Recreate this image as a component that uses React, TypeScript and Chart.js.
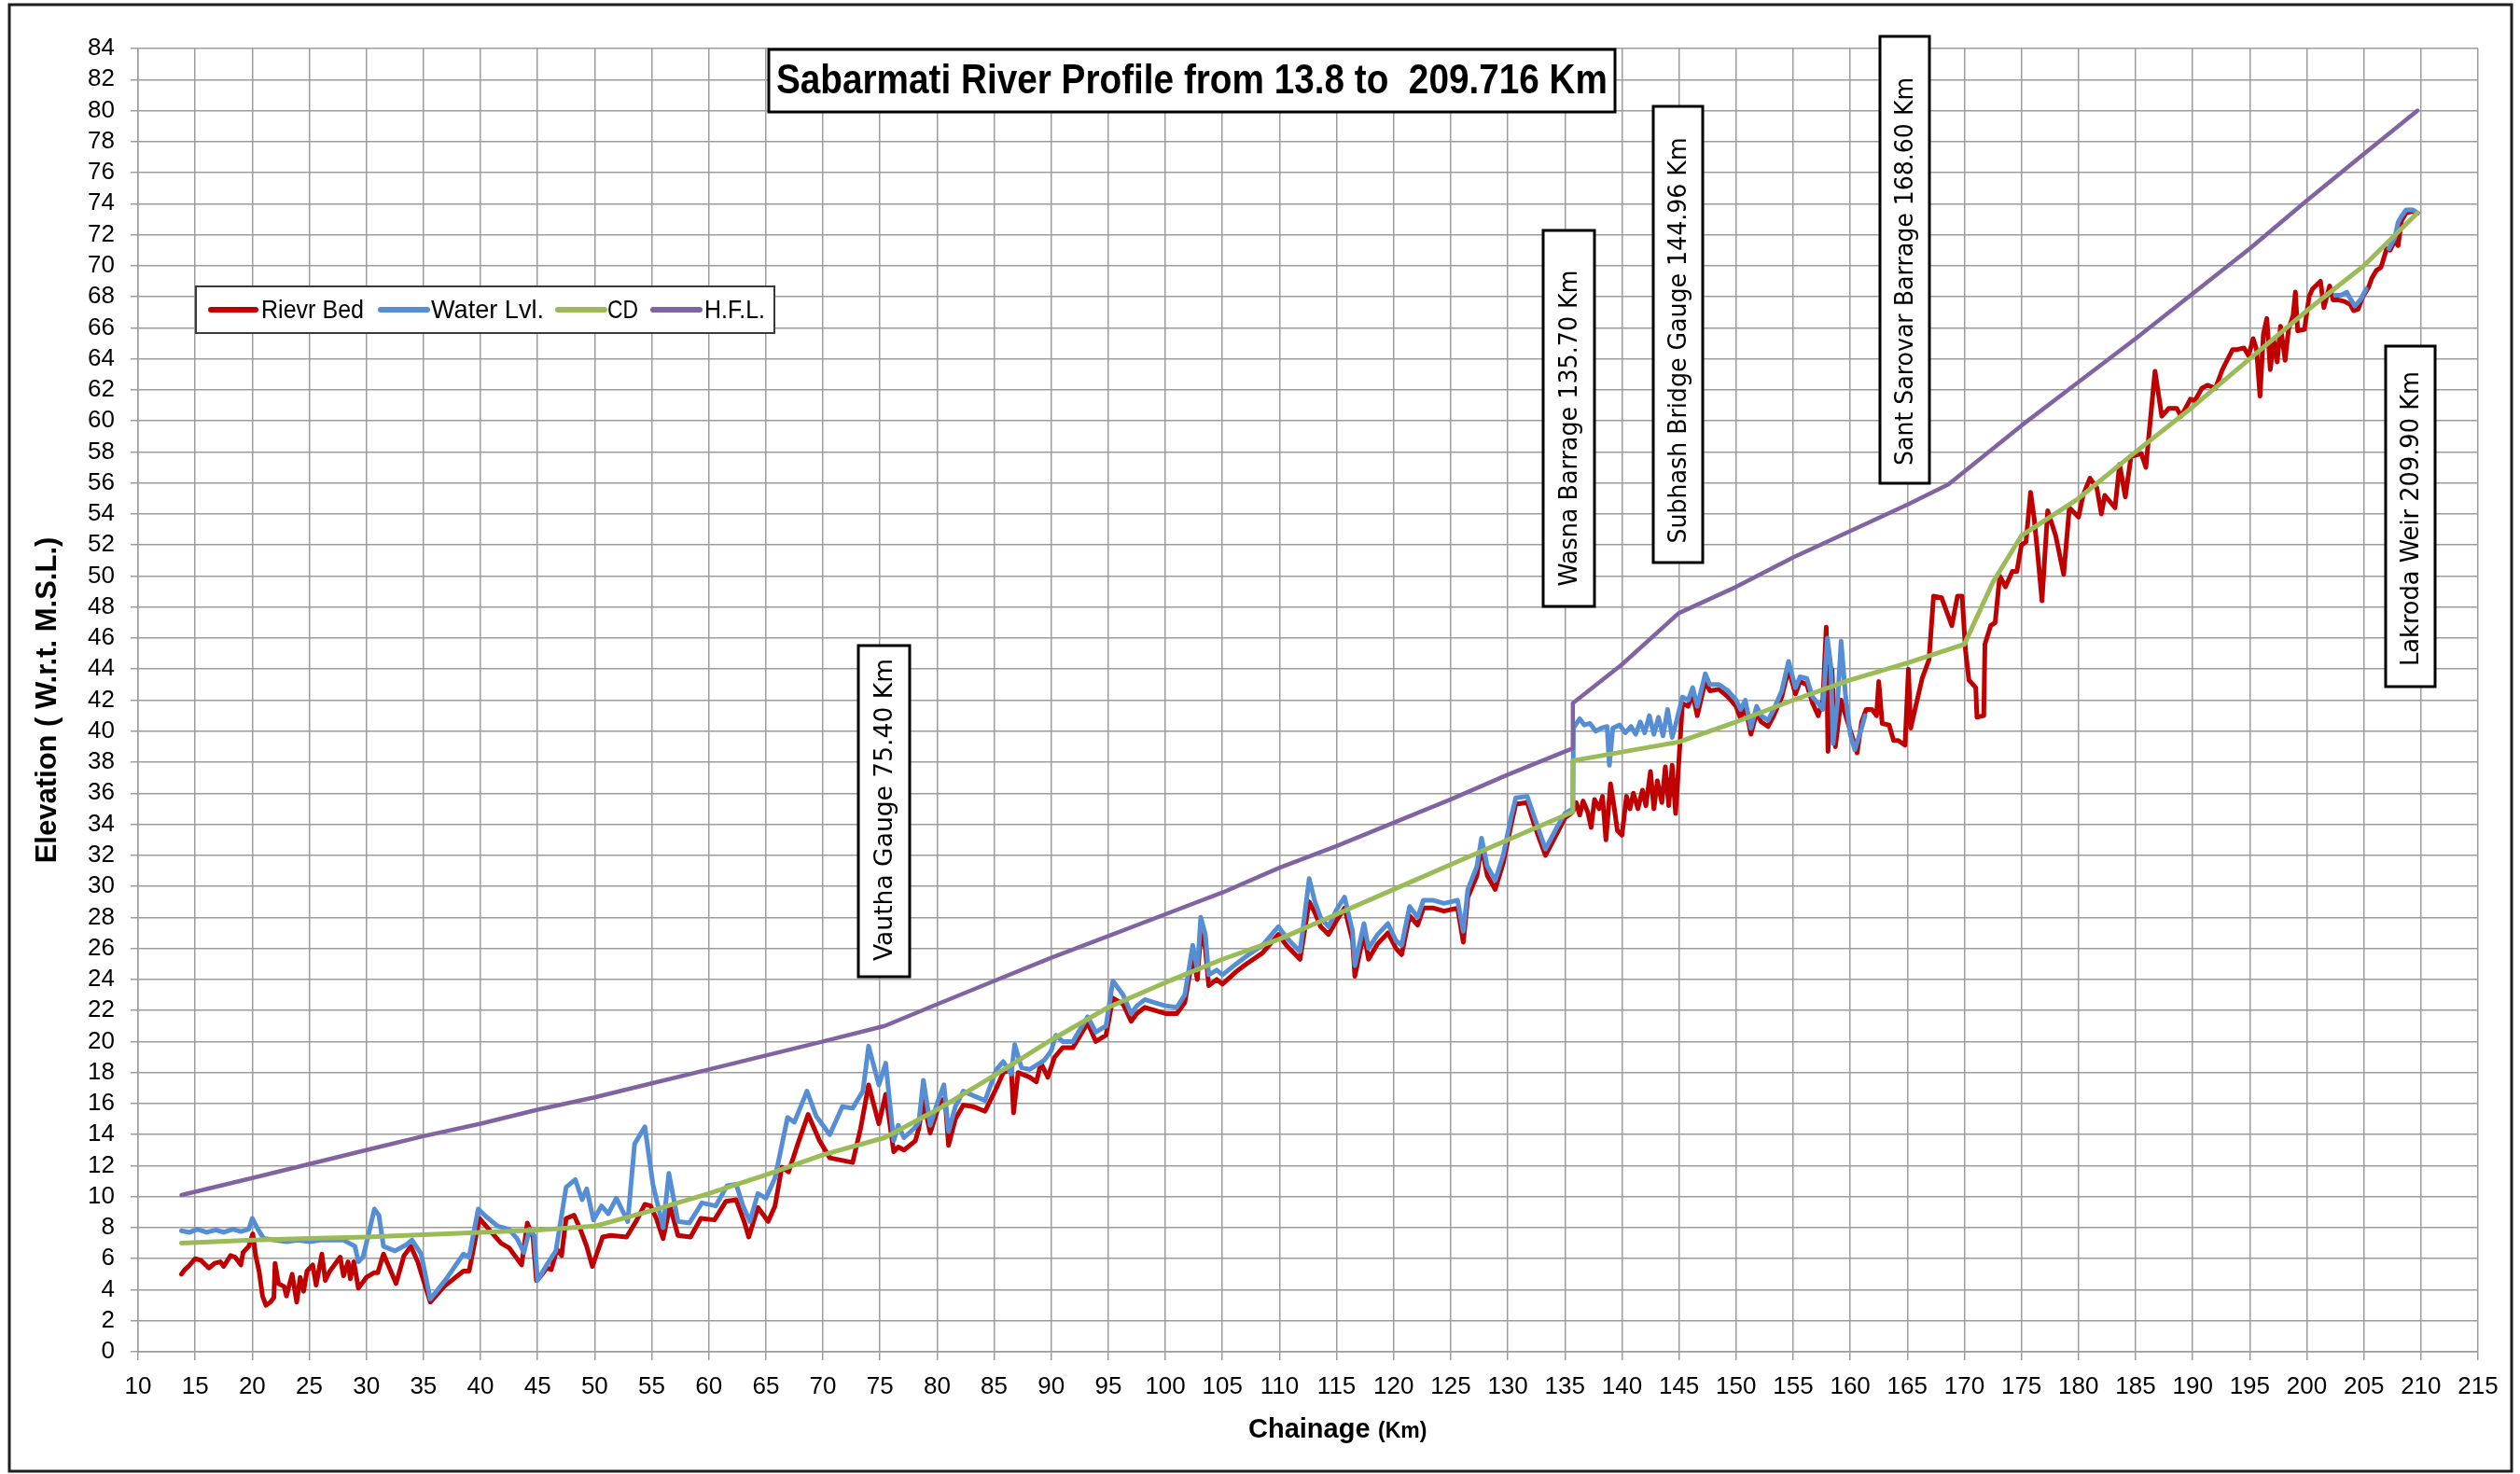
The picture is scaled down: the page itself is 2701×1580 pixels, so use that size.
import React, { useEffect, useRef } from 'react';
import { Chart, registerables } from 'chart.js';

Chart.register(...registerables);

// ---------- DATA (chainage km, elevation m) ----------
const riverBed: [number, number][] = [
  [13.8, 5.0], [14.1, 5.3], [14.4, 5.5], [15.0, 6.0], [15.5, 5.9], [16.2, 5.4], [16.7, 5.7], [17.2, 5.8],
  [17.5, 5.5], [18.1, 6.2], [18.5, 6.1], [19.0, 5.6], [19.2, 6.4], [19.7, 6.8], [20.05, 7.6], [20.3, 6.2],
  [20.6, 5.2], [20.9, 3.6], [21.2, 3.0], [21.6, 3.2], [21.9, 3.5], [22.0, 5.7], [22.3, 4.4], [22.8, 4.2],
  [23.0, 3.6], [23.5, 5.0], [23.9, 3.2], [24.2, 4.8], [24.5, 3.9], [24.8, 5.2], [25.3, 5.6], [25.6, 4.3],
  [26.1, 6.3], [26.4, 4.6], [26.8, 5.2], [27.2, 5.6], [27.7, 6.1], [28.0, 4.9], [28.4, 5.8], [28.6, 4.7],
  [28.9, 5.8], [29.3, 4.1], [30.0, 4.8], [30.7, 5.1], [31.0, 5.1], [31.5, 6.3], [32.6, 4.4], [33.3, 6.2],
  [33.9, 6.8], [34.5, 5.8], [35.6, 3.2], [36.8, 4.2], [38.5, 5.2], [39.0, 5.2], [39.9, 8.6], [40.6, 8.0],
  [41.8, 7.0], [42.5, 6.7], [43.6, 5.6], [44.1, 8.3], [44.6, 7.4], [44.9, 4.6], [45.3, 4.9], [45.8, 5.4],
  [46.2, 5.3], [46.7, 6.6], [47.1, 6.2], [47.5, 8.6], [48.2, 8.8], [48.8, 7.8], [49.3, 6.8], [49.8, 5.5],
  [50.7, 7.4], [51.4, 7.5], [52.8, 7.4], [53.7, 8.5], [54.4, 9.5], [54.9, 9.4], [55.4, 8.6], [56.0, 7.3],
  [56.6, 9.4], [57.3, 7.5], [58.4, 7.4], [59.3, 8.6], [60.5, 8.5], [61.5, 9.7], [62.4, 9.8], [63.1, 8.4],
  [63.5, 7.4], [64.3, 9.3], [65.2, 8.4], [65.8, 9.4], [66.4, 11.9], [67.0, 11.6], [67.8, 13.4], [68.7, 15.3],
  [69.7, 13.6], [70.6, 12.5], [72.6, 12.2], [73.3, 14.4], [74.0, 17.2], [74.9, 14.7], [75.5, 16.6], [76.2, 12.9],
  [76.6, 13.2], [77.1, 13.0], [78.1, 13.6], [78.4, 14.4], [78.8, 16.2], [79.4, 14.1], [80.3, 16.2], [80.7, 16.3],
  [81.0, 13.3], [81.6, 15.0], [82.3, 15.9], [83.2, 15.8], [84.2, 15.5], [85.2, 17.0], [85.8, 18.0], [86.5, 18.2],
  [86.7, 15.4], [87.1, 18.0], [88.1, 17.7], [88.7, 17.4], [89.1, 18.6], [89.7, 17.7], [90.3, 19.0], [91.0, 19.6],
  [91.9, 19.6], [93.2, 21.2], [93.9, 20.0], [94.8, 20.4], [95.4, 22.8], [96.3, 22.4], [97.0, 21.3], [97.5, 21.8],
  [98.2, 22.2], [99.1, 22.0], [100.0, 21.8], [101.0, 21.8], [101.7, 22.5], [102.4, 25.5], [102.8, 24.0], [103.1, 27.0],
  [103.5, 26.0], [103.8, 23.6], [104.5, 24.0], [105.0, 23.7], [106.2, 24.5], [107.1, 25.0], [108.5, 25.7], [109.9, 26.9],
  [110.6, 26.2], [111.8, 25.3], [112.6, 29.0], [113.1, 28.3], [113.6, 27.4], [114.3, 26.9], [115.0, 27.8], [115.7, 28.6],
  [116.4, 26.5], [116.6, 24.2], [117.4, 27.0], [117.8, 25.3], [118.6, 26.3], [119.5, 27.0], [120.2, 26.0], [120.7, 25.6],
  [121.4, 28.1], [122.1, 27.5], [122.6, 28.6], [123.5, 28.6], [124.4, 28.4], [125.6, 28.6], [126.1, 26.4], [126.5, 29.3],
  [127.3, 30.7], [127.7, 32.6], [128.2, 30.7], [128.9, 29.8], [129.6, 31.5], [130.3, 34.0], [130.7, 35.3], [131.7, 35.4],
  [132.4, 33.8], [133.3, 32.0], [134.3, 33.4], [135.0, 34.4], [135.7, 34.8], [136.0, 35.4], [136.3, 34.6], [136.6, 35.5],
  [137.0, 34.8], [137.3, 33.8], [137.6, 35.6], [138.0, 35.0], [138.3, 35.8], [138.6, 33.0], [139.0, 36.6], [139.3, 35.2],
  [139.6, 33.6], [140.0, 33.3], [140.4, 35.8], [140.7, 35.0], [141.0, 36.0], [141.4, 35.0], [141.8, 36.2], [142.1, 35.2],
  [142.5, 37.4], [142.8, 35.0], [143.1, 36.8], [143.5, 35.4], [143.8, 37.7], [144.1, 35.2], [144.4, 37.8], [144.7, 34.7],
  [144.9, 37.0], [145.3, 41.8], [145.8, 41.6], [146.2, 42.4], [146.6, 41.0], [147.3, 43.2], [147.7, 42.6], [148.5, 42.7],
  [149.3, 42.2], [150.0, 41.6], [150.4, 40.8], [150.8, 41.6], [151.3, 39.8], [151.8, 41.2], [152.2, 40.6], [152.8, 40.3],
  [153.3, 41.0], [154.0, 42.2], [154.6, 44.0], [155.2, 42.4], [155.6, 43.2], [156.2, 43.0], [156.7, 41.8], [157.2, 41.0],
  [157.6, 42.0], [157.9, 46.7], [158.05, 38.7], [158.4, 44.0], [158.7, 39.0], [159.2, 42.0], [159.6, 41.0], [160.2, 39.6],
  [160.6, 38.6], [161.0, 40.6], [161.4, 41.4], [161.9, 41.4], [162.3, 41.0], [162.5, 43.2], [162.8, 40.5], [163.4, 40.4],
  [163.8, 39.4], [164.2, 39.4], [164.8, 39.1], [165.1, 44.0], [165.3, 40.2], [166.3, 43.4], [166.9, 44.6], [167.3, 48.7],
  [168.0, 48.6], [168.9, 46.8], [169.4, 48.7], [169.8, 48.7], [170.1, 45.2], [170.4, 43.3], [171.0, 42.8], [171.1, 40.9],
  [171.7, 41.0], [171.8, 45.6], [172.3, 46.8], [172.7, 47.0], [173.1, 50.0], [173.6, 49.3], [174.2, 50.3], [174.6, 50.3],
  [175.0, 52.0], [175.4, 52.2], [175.8, 55.4], [176.1, 53.8], [176.4, 51.6], [176.8, 48.4], [177.3, 54.2], [178.0, 52.6],
  [178.7, 50.1], [179.2, 54.4], [180.0, 53.8], [180.4, 55.2], [181.0, 56.3], [181.6, 55.7], [182.0, 54.0], [182.3, 55.2],
  [183.2, 54.4], [183.6, 57.2], [184.1, 55.1], [184.6, 57.7], [185.5, 57.9], [185.9, 57.0], [186.7, 63.2], [187.3, 60.3],
  [187.9, 60.8], [188.6, 60.8], [189.0, 60.3], [189.8, 61.4], [190.2, 61.3], [190.8, 62.1], [191.3, 62.3], [192.0, 62.1],
  [192.6, 63.3], [193.5, 64.6], [193.9, 64.6], [194.5, 64.7], [194.9, 64.2], [195.3, 65.3], [195.6, 64.6], [195.9, 61.6],
  [196.2, 65.6], [196.5, 66.6], [196.8, 63.3], [197.1, 65.2], [197.4, 63.8], [197.7, 66.1], [198.1, 63.9], [198.4, 65.9],
  [198.8, 66.8], [199.0, 68.3], [199.2, 65.8], [199.8, 65.9], [200.2, 68.0], [200.5, 68.5], [201.2, 69.0], [201.5, 67.3],
  [202.0, 68.7], [202.3, 67.8], [202.7, 67.8], [203.3, 67.7], [203.8, 67.5], [204.1, 67.1], [204.5, 67.2], [204.9, 68.0],
  [205.4, 68.6], [205.7, 69.2], [206.1, 69.7], [206.5, 69.9], [207.0, 71.1], [207.3, 71.0], [207.7, 71.6], [208.0, 71.3],
  [208.3, 72.9], [208.7, 73.4], [209.2, 73.5], [209.7, 73.4],
];

const waterLevel: [number, number | null][] = [
  [13.8, 7.8], [14.5, 7.7], [15.2, 7.9], [16.0, 7.7], [16.8, 7.85], [17.5, 7.7], [18.3, 7.9], [19.0, 7.75],
  [19.7, 7.9], [20.0, 8.6], [20.5, 7.9], [21.0, 7.3], [22.0, 7.2], [23.0, 7.1], [24.0, 7.2], [25.0, 7.1],
  [26.0, 7.2], [27.0, 7.2], [28.0, 7.2], [28.5, 7.0], [29.0, 6.8], [29.3, 5.8], [29.7, 6.1], [30.2, 7.6],
  [30.7, 9.2], [31.1, 8.8], [31.5, 6.8], [32.5, 6.5], [33.5, 6.9], [34.0, 7.2], [34.8, 6.3], [35.6, 3.4],
  [37.0, 4.7], [38.5, 6.3], [39.0, 6.1], [39.8, 9.2], [40.5, 8.7], [41.5, 8.1], [42.5, 7.9], [43.2, 7.3],
  [43.8, 6.4], [44.3, 7.9], [44.7, 7.5], [45.0, 4.6], [45.8, 5.6], [46.6, 6.5], [47.5, 10.6], [48.3, 11.1],
  [48.9, 9.8], [49.3, 10.5], [49.9, 8.5], [50.6, 9.4], [51.2, 8.9], [51.9, 9.9], [52.9, 8.4], [53.5, 13.4],
  [54.4, 14.5], [55.1, 10.8], [56.0, 8.0], [56.5, 11.5], [57.3, 8.4], [58.3, 8.3], [59.4, 9.6], [60.6, 9.4],
  [61.6, 10.7], [62.4, 10.8], [63.0, 9.4], [63.6, 8.4], [64.3, 10.2], [65.0, 9.9], [65.8, 11.2], [66.9, 15.1],
  [67.5, 14.8], [68.6, 16.8], [69.4, 15.2], [70.6, 14.0], [71.7, 15.8], [72.6, 15.7], [73.5, 16.8], [74.0, 19.7],
  [74.9, 17.2], [75.5, 18.6], [76.2, 13.6], [76.6, 14.6], [77.1, 13.8], [78.0, 14.4], [78.4, 14.8], [78.8, 17.5],
  [79.4, 14.6], [80.0, 16.0], [80.6, 17.2], [81.0, 14.2], [81.6, 15.8], [82.3, 16.8], [83.2, 16.5], [84.2, 16.2],
  [85.2, 18.2], [85.8, 18.7], [86.5, 17.9], [86.8, 19.8], [87.4, 18.3], [88.1, 18.2], [89.0, 18.6], [89.4, 18.8],
  [90.0, 19.4], [90.4, 20.4], [91.0, 20.0], [91.9, 20.0], [93.2, 21.6], [93.9, 20.6], [94.8, 21.0], [95.4, 23.9],
  [96.3, 23.0], [97.0, 21.8], [97.5, 22.3], [98.2, 22.7], [99.1, 22.5], [100.0, 22.3], [101.0, 22.2], [101.7, 23.0],
  [102.4, 26.2], [102.8, 24.6], [103.1, 28.0], [103.5, 26.9], [103.8, 24.3], [104.5, 24.6], [105.0, 24.3], [106.2, 25.0],
  [107.1, 25.5], [108.5, 26.2], [109.9, 27.4], [110.6, 26.7], [111.8, 25.8], [112.6, 30.5], [113.1, 29.0], [113.6, 28.0],
  [114.3, 27.4], [115.0, 28.5], [115.7, 29.3], [116.4, 27.1], [116.6, 24.9], [117.4, 27.6], [117.8, 26.0], [118.6, 26.9],
  [119.5, 27.6], [120.2, 26.5], [120.7, 26.2], [121.4, 28.7], [122.1, 28.0], [122.6, 29.1], [123.5, 29.1], [124.4, 28.9],
  [125.6, 29.1], [126.1, 27.1], [126.5, 29.8], [127.3, 31.3], [127.7, 33.1], [128.2, 31.3], [128.9, 30.4], [129.6, 32.0],
  [130.3, 34.5], [130.7, 35.7], [131.7, 35.8], [132.4, 34.3], [133.3, 32.4], [134.3, 33.8], [135.0, 34.7], [135.7, 35.0],
  [135.75, 40.2], [136.3, 40.8], [136.7, 40.4], [137.2, 40.5], [137.7, 40.0], [138.2, 40.2], [138.7, 40.3], [138.9, 37.8],
  [139.2, 40.2], [139.8, 40.4], [140.3, 39.9], [140.8, 40.3], [141.2, 39.8], [141.6, 40.6], [142.0, 39.9], [142.4, 41.0],
  [142.8, 39.8], [143.2, 40.9], [143.6, 39.7], [144.0, 41.4], [144.4, 39.6], [144.8, 40.7], [145.3, 42.2], [145.8, 42.0],
  [146.2, 42.8], [146.6, 41.6], [147.3, 43.7], [147.7, 43.0], [148.5, 43.0], [149.3, 42.6], [150.0, 42.0], [150.4, 41.4],
  [150.8, 42.0], [151.3, 40.2], [151.8, 41.6], [152.2, 41.0], [152.8, 40.7], [153.3, 41.4], [154.0, 42.6], [154.6, 44.5],
  [155.2, 42.8], [155.6, 43.5], [156.2, 43.4], [156.7, 42.2], [157.2, 41.8], [157.6, 41.4], [158.0, 46.0], [158.3, 44.2],
  [158.5, 39.2], [158.9, 42.0], [159.2, 45.8], [159.6, 42.2], [160.0, 39.8], [160.4, 38.8], [161.0, 40.2], [161.3, 41.0],
  [161.35, null],
  [202.5, 68.1], [203.0, 68.1], [203.5, 68.3], [203.8, 67.9], [204.2, 67.4], [204.7, 67.8], [205.2, 68.5],
  [205.25, null],
  [207.2, 71.1], [207.7, 71.8], [208.0, 72.8], [208.3, 73.2], [208.7, 73.6], [209.3, 73.6], [209.7, 73.4],
];

const cdLine: [number, number][] = [
  [13.8, 7.0], [20, 7.2], [25, 7.3], [30, 7.4], [35, 7.55], [40, 7.7], [45, 7.85], [50, 8.1],
  [55, 9.1], [60, 10.2], [65, 11.4], [70, 12.7], [75.4, 13.8], [80, 15.6], [85, 17.8], [90, 20.1],
  [95, 22.2], [100, 23.8], [105, 25.3], [110, 26.6], [115, 28.2], [120, 29.8], [125, 31.4], [130, 33.0],
  [135.7, 34.8], [135.7, 38.1], [144.96, 39.3], [150, 40.6], [155, 42.0], [160, 43.3], [165, 44.4], [170, 45.6],
  [172.5, 49.6], [175, 52.6], [180, 55.0], [185, 58.0], [190, 60.9], [195, 64.0], [200, 67.1], [205, 70.0],
  [209.7, 73.4],
];

const hflLine: [number, number][] = [
  [13.8, 10.1], [20, 11.2], [25, 12.1], [30, 13.0], [35, 13.9], [40, 14.7], [45, 15.6], [50, 16.4],
  [55, 17.3], [60, 18.2], [65, 19.1], [70, 20.0], [75.4, 21.0], [80, 22.4], [85, 23.9], [90, 25.4],
  [95, 26.8], [100, 28.2], [105, 29.6], [110, 31.2], [115, 32.6], [120, 34.1], [125, 35.6], [130, 37.2],
  [135.7, 38.9], [135.7, 41.8], [140, 44.3], [144.96, 47.6], [150, 49.3], [155, 51.2], [160, 52.9], [165, 54.6],
  [168.6, 55.9], [175, 59.7], [180, 62.5], [185, 65.3], [190, 68.2], [195, 71.1], [200, 74.2], [205, 77.2],
  [209.7, 80.0],
];

const seriesNames = ['Rievr Bed', 'Water Lvl.', 'CD', 'H.F.L.'];
const seriesColors = ['#C00000', '#558ED5', '#9BBB59', '#8064A2'];

const chartTitle = 'Sabarmati River Profile from 13.8 to  209.716 Km';
const yAxisTitle = 'Elevation ( W.r.t. M.S.L.)';
const xAxisTitleMain = 'Chainage';
const xAxisTitleUnit = '(Km)';

const gaugeLabels = [
  'Vautha Gauge 75.40 Km',
  'Wasna Barrage 135.70 Km',
  'Subhash Bridge Gauge 144.96 Km',
  'Sant Sarovar Barrage 168.60 Km',
  'Lakroda Weir 209.90 Km',
];

const xMin = 10, xMax = 215, xStep = 5;
const yMin = 0, yMax = 84, yStep = 2;

// ---------- LAYOUT (pixels) ----------
const W = 2701, H = 1580;
const PLOT = { left: 148, right: 2656, top: 52, bottom: 1449 };
const GAUGE_BOXES = [
  { x0: 920, x1: 975, y0: 692, y1: 1047, textCy: 868, textLen: 324 },
  { x0: 1654, x1: 1709, y0: 247, y1: 650, textCy: 459, textLen: 339 },
  { x0: 1772, x1: 1825, y0: 114, y1: 603, textCy: 365, textLen: 435 },
  { x0: 2015, x1: 2068, y0: 39, y1: 518, textCy: 291, textLen: 416 },
  { x0: 2557, x1: 2610, y0: 371, y1: 736, textCy: 556, textLen: 316 },
];
const LEGEND = {
  box: { x0: 210, y0: 307, x1: 830, y1: 357 },
  items: [
    { s0: 226, s1: 274, tx: 280, tw: 110 },
    { s0: 408, s1: 458, tx: 462, tw: 121 },
    { s0: 598, s1: 648, tx: 651, tw: 33 },
    { s0: 700, s1: 750, tx: 755, tw: 65 },
  ],
};
const GRID = '#9c9c9c';
const TICK_FONT = { family: '"Liberation Sans", Arial, sans-serif', size: 26 };

const toPoints = (arr: [number, number | null][]) => arr.map(([x, y]) => ({ x, y }));

const overlayPlugin = {
  id: 'overlay',
  afterDraw(chart: any) {
    const ctx: CanvasRenderingContext2D = chart.ctx;
    ctx.save();

    // chart frame
    ctx.strokeStyle = '#1e1e1e';
    ctx.lineWidth = 3;
    ctx.strokeRect(10, 5, 2682, 1572);

    // title box
    ctx.fillStyle = '#fff';
    ctx.fillRect(824, 53, 907, 67);
    ctx.strokeStyle = '#000';
    ctx.lineWidth = 3;
    ctx.strokeRect(824, 53, 907, 67);
    ctx.fillStyle = '#000';
    ctx.font = 'bold 44px "Liberation Sans", Arial, sans-serif';
    ctx.textAlign = 'center';
    ctx.textBaseline = 'middle';
    ctx.fillText(chartTitle, 1277.5, 88, 891);

    // legend
    const lb = LEGEND.box;
    ctx.fillStyle = '#fff';
    ctx.fillRect(lb.x0, lb.y0, lb.x1 - lb.x0, lb.y1 - lb.y0);
    ctx.strokeStyle = '#3a3a3a';
    ctx.lineWidth = 2;
    ctx.strokeRect(lb.x0, lb.y0, lb.x1 - lb.x0, lb.y1 - lb.y0);
    const ly = (lb.y0 + lb.y1) / 2;
    LEGEND.items.forEach((it, i) => {
      ctx.strokeStyle = seriesColors[i];
      ctx.lineWidth = 6;
      ctx.lineCap = 'round';
      ctx.beginPath();
      ctx.moveTo(it.s0, ly);
      ctx.lineTo(it.s1, ly);
      ctx.stroke();
      ctx.fillStyle = '#000';
      ctx.font = '28px "Liberation Sans", Arial, sans-serif';
      ctx.textAlign = 'left';
      ctx.textBaseline = 'middle';
      ctx.fillText(seriesNames[i], it.tx, ly + 1, it.tw);
    });

    // gauge annotation boxes (rotated text)
    GAUGE_BOXES.forEach((b, i) => {
      ctx.fillStyle = '#fff';
      ctx.fillRect(b.x0, b.y0, b.x1 - b.x0, b.y1 - b.y0);
      ctx.strokeStyle = '#000';
      ctx.lineWidth = 3;
      ctx.strokeRect(b.x0, b.y0, b.x1 - b.x0, b.y1 - b.y0);
      ctx.save();
      ctx.translate((b.x0 + b.x1) / 2 + 1, b.textCy);
      ctx.rotate(-Math.PI / 2);
      ctx.fillStyle = '#000';
      ctx.font = '27px "DejaVu Sans", Verdana, sans-serif';
      ctx.textAlign = 'center';
      ctx.textBaseline = 'middle';
      ctx.fillText(gaugeLabels[i], 0, 0, b.textLen);
      ctx.restore();
    });

    // x-axis title with mixed sizes
    ctx.fillStyle = '#000';
    ctx.textAlign = 'left';
    ctx.textBaseline = 'alphabetic';
    ctx.font = 'bold 29px "Liberation Sans", Arial, sans-serif';
    ctx.fillText(xAxisTitleMain, 1338, 1541, 132);
    ctx.font = 'bold 23px "Liberation Sans", Arial, sans-serif';
    ctx.fillText(xAxisTitleUnit, 1477, 1541, 57);

    ctx.restore();
  },
};

export default function App() {
  const ref = useRef<HTMLCanvasElement>(null);

  useEffect(() => {
    document.body.style.margin = '0';
    const canvas = ref.current;
    if (!canvas) return;

    const common = {
      showLine: true,
      pointRadius: 0,
      pointHoverRadius: 0,
      tension: 0,
      borderJoinStyle: 'round' as const,
      borderCapStyle: 'round' as const,
      spanGaps: false,
      fill: false,
    };

    const chart = new Chart(canvas, {
      type: 'scatter',
      data: {
        datasets: [
          { ...common, label: seriesNames[3], data: toPoints(hflLine), borderColor: seriesColors[3], backgroundColor: seriesColors[3], borderWidth: 4.5 },
          { ...common, label: seriesNames[2], data: toPoints(cdLine), borderColor: seriesColors[2], backgroundColor: seriesColors[2], borderWidth: 5 },
          { ...common, label: seriesNames[1], data: toPoints(waterLevel), borderColor: seriesColors[1], backgroundColor: seriesColors[1], borderWidth: 5 },
          { ...common, label: seriesNames[0], data: toPoints(riverBed), borderColor: seriesColors[0], backgroundColor: seriesColors[0], borderWidth: 5 },
        ],
      },
      options: {
        responsive: false,
        animation: false,
        devicePixelRatio: 1,
        events: [],
        layout: { padding: { left: 0, top: PLOT.top, right: W - PLOT.right, bottom: 0 } },
        plugins: {
          legend: { display: false },
          tooltip: { enabled: false },
          title: { display: false },
        },
        scales: {
          x: {
            type: 'linear',
            min: xMin,
            max: xMax,
            afterFit: (s: any) => { s.height = H - PLOT.bottom; },
            ticks: {
              stepSize: xStep,
              autoSkip: false,
              maxRotation: 0,
              padding: 13,
              color: '#000',
              font: TICK_FONT,
            },
            grid: { color: GRID, lineWidth: 1.5, tickLength: 9, drawTicks: true },
            border: { color: GRID, width: 1.5 },
          },
          y: {
            type: 'linear',
            min: yMin,
            max: yMax,
            afterFit: (s: any) => { s.width = PLOT.left; },
            ticks: {
              stepSize: yStep,
              autoSkip: false,
              padding: 17,
              color: '#000',
              font: TICK_FONT,
            },
            grid: { color: GRID, lineWidth: 1.5, tickLength: 8, drawTicks: true },
            border: { color: GRID, width: 1.5 },
            title: {
              display: true,
              text: yAxisTitle,
              color: '#000',
              font: { family: '"Liberation Sans", Arial, sans-serif', size: 31, weight: 'bold' },
              padding: { top: 33, bottom: 0 },
            },
          },
        },
      },
      plugins: [overlayPlugin],
    } as any);

    return () => chart.destroy();
  }, []);

  return (
    <div style={{ width: W, height: H, position: 'relative', background: '#fff' }}>
      <canvas ref={ref} width={W} height={H} style={{ display: 'block', width: W, height: H }} />
    </div>
  );
}
